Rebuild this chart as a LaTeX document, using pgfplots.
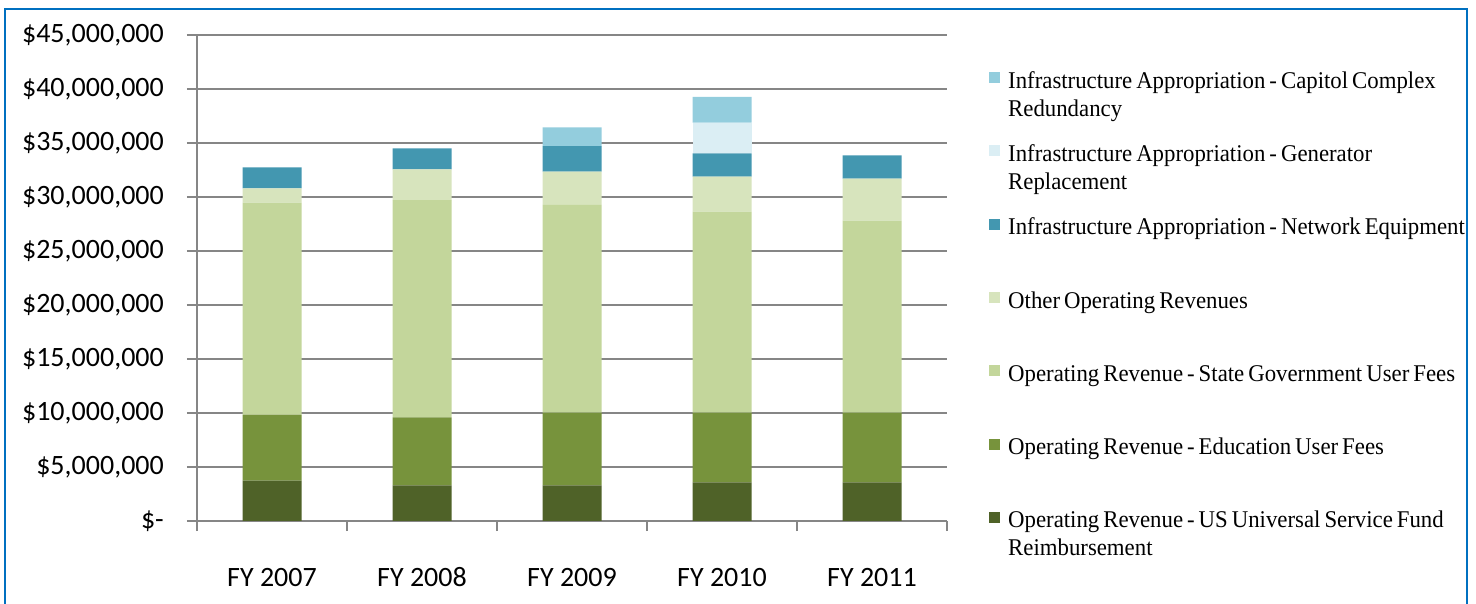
\documentclass[border=0pt]{standalone}
\usepackage{pgfplots}
\usepackage{pgfplotstable}
\pgfplotsset{compat=1.18}
\usepackage{fontspec}
\setmainfont{Carlito}
\newfontfamily\legfont[FakeStretch=0.95]{Liberation Serif}
\newcommand\legsetup{\legfont\fontsize{24bp}{28bp}\selectfont\hyphenpenalty=10000\relax}
\newcommand\legspace{\spaceskip=4bp plus 1bp\relax\xspaceskip=4bp plus 1bp\relax}

\definecolor{usf}{HTML}{4F6228}
\definecolor{edu}{HTML}{77933C}
\definecolor{state}{HTML}{C3D69B}
\definecolor{other}{HTML}{D7E4BD}
\definecolor{net}{HTML}{4397B0}
\definecolor{gen}{HTML}{DBEEF4}
\definecolor{cap}{HTML}{93CDDD}
\definecolor{axgray}{HTML}{868686}
\definecolor{frameblue}{HTML}{0070C0}

% revenue by source, millions of dollars (segment heights)
\pgfplotstableread{
x usf  edu  state other net  gen  cap
0 3.73 6.11 19.63 1.33 1.95 0    0
1 3.30 6.30 20.12 2.84 1.95 0    0
2 3.30 6.73 19.23 3.09 2.37 0    1.73
3 3.58 6.45 18.61 3.24 2.16 2.84 2.38
4 3.58 6.45 17.78 3.89 2.16 0    0
}\revdata

\begin{document}
\begin{tikzpicture}
\path[use as bounding box] (0,0) rectangle (1476bp,604bp);
\draw[frameblue, line width=2.5bp] (5bp,0) -- (5bp,595bp) -- (1467bp,595bp) -- (1467bp,0);
\begin{axis}[
    at={(197bp,83bp)}, anchor=south west,
    scale only axis, width=750bp, height=486bp,
    ybar stacked, bar width=59bp,
    xmin=-0.5, xmax=4.5, ymin=0, ymax=45,
    axis lines*=left,
    axis line style={draw=axgray, line width=1.3bp},
    ymajorgrids,
    grid style={draw=axgray, line width=1.3bp},
    tick align=outside,
    major tick length=10bp, minor tick length=10bp,
    tick style={draw=axgray, line width=1.3bp},
    major x tick style={draw=none},
    xtick={0,1,2,3,4},
    xticklabels={FY 2007, FY 2008, FY 2009, FY 2010, FY 2011},
    minor xtick={-0.5,0.5,1.5,2.5,3.5,4.5},
    ytick={0,5,...,45},
    yticklabels={{\$-\hspace{12bp}},{\$5,000,000},{\$10,000,000},{\$15,000,000},{\$20,000,000},{\$25,000,000},{\$30,000,000},{\$35,000,000},{\$40,000,000},{\$45,000,000}},
    ticklabel style={font=\fontsize{28bp}{33bp}\selectfont},
    xticklabel style={anchor=base, yshift=-55bp},
    yticklabel style={anchor=east, inner sep=0pt, xshift=-23bp},
    legend style={at={(1.056,0.928)}, anchor=north west, draw=none, fill=none,
        inner sep=0pt, row sep=15.3bp, column sep=8bp,
        nodes={inner sep=0pt, text width=490bp, text height=18bp, text depth=40bp,
            font=\legsetup, execute at begin node=\legspace}},
    reverse legend,
    legend image code/.code={\fill[#1] (0bp,16bp) rectangle (11bp,27bp);},
]
\addplot[fill=usf, draw=none] table[x=x, y=usf] {\revdata};
\addlegendentry{Operating Revenue - US Universal Service Fund\\Reimbursement}
\addplot[fill=edu, draw=none] table[x=x, y=edu] {\revdata};
\addlegendentry{Operating Revenue - Education User Fees}
\addplot[fill=state, draw=none] table[x=x, y=state] {\revdata};
\addlegendentry{Operating Revenue - State Government User Fees}
\addplot[fill=other, draw=none] table[x=x, y=other] {\revdata};
\addlegendentry{Other Operating Revenues}
\addplot[fill=net, draw=none] table[x=x, y=net] {\revdata};
\addlegendentry{Infrastructure Appropriation - Network Equipment}
\addplot[fill=gen, draw=none] table[x=x, y=gen] {\revdata};
\addlegendentry{Infrastructure Appropriation - Generator\\Replacement}
\addplot[fill=cap, draw=none] table[x=x, y=cap] {\revdata};
\addlegendentry{Infrastructure Appropriation - Capitol Complex\\Redundancy}
\end{axis}
\end{tikzpicture}
\end{document}
